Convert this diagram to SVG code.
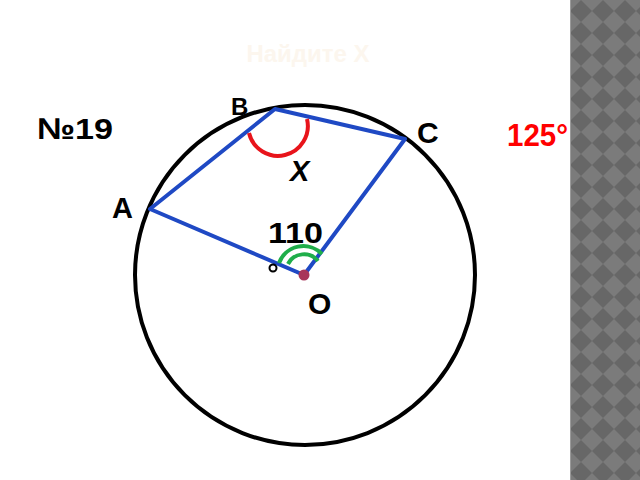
<svg xmlns="http://www.w3.org/2000/svg" width="640" height="480" viewBox="0 0 640 480">
<defs>
<pattern id="chk" x="570" y="0" width="22" height="22" patternUnits="userSpaceOnUse">
<rect width="22" height="22" fill="#7b7b7b"/>
<polygon points="11,0 22,11 11,22 0,11" fill="#676767"/>
</pattern>
<style>
.t{font-family:"Liberation Sans",Arial,sans-serif;font-weight:bold;fill:#000}
.q{fill:none;stroke:#1f49c4;stroke-width:4;stroke-linejoin:round}
.g{fill:none;stroke:#1fae4a;stroke-width:4}
</style>
</defs>
<rect width="640" height="480" fill="#fff"/>
<rect x="570" y="0" width="70" height="480" fill="url(#chk)"/>
<line x1="570.5" y1="0" x2="570.5" y2="480" stroke="#9a9a9a" stroke-width="1"/>
<text x="308" y="62" text-anchor="middle" class="t" style="fill:#fcf6ee;font-size:24px">Найдите Х</text>
<g id="circle"><circle cx="305" cy="275" r="170" fill="none" stroke="#000" stroke-width="4"/></g>
<g id="connectors">
<polygon class="q" points="275,109 405,139 304,275 150,209"/>
<path d="M249,133 A29 29 0 0 0 307,119" fill="none" stroke="#e8141b" stroke-width="4"/>
<path class="g" d="M279,263 A26 26 0 0 1 322,254"/>
<path class="g" d="M288,264 A18 18 0 0 1 318,261"/>
</g>
<g id="O-point"><circle cx="304" cy="275" r="5.5" fill="#a8365a"/></g>
<g id="deg"><circle cx="273" cy="268" r="3.5" fill="none" stroke="#000" stroke-width="2"/></g>
<g id="labels">
<text x="37" y="139" class="t" font-size="30" textLength="76" lengthAdjust="spacingAndGlyphs">№19</text>
<text x="231" y="115" class="t" font-size="24">B</text>
<text x="417" y="143" class="t" font-size="30">C</text>
<text x="290" y="181" class="t" font-size="29" font-style="italic">X</text>
<text x="112" y="218" class="t" font-size="29">A</text>
<text x="268" y="243" class="t" font-size="29" textLength="55" lengthAdjust="spacingAndGlyphs">110</text>
<text x="308" y="314" class="t" font-size="30">O</text>
<text x="507" y="146" class="t" font-size="31" textLength="61" lengthAdjust="spacingAndGlyphs" style="fill:#ff0000">125°</text>
</g>
</svg>
